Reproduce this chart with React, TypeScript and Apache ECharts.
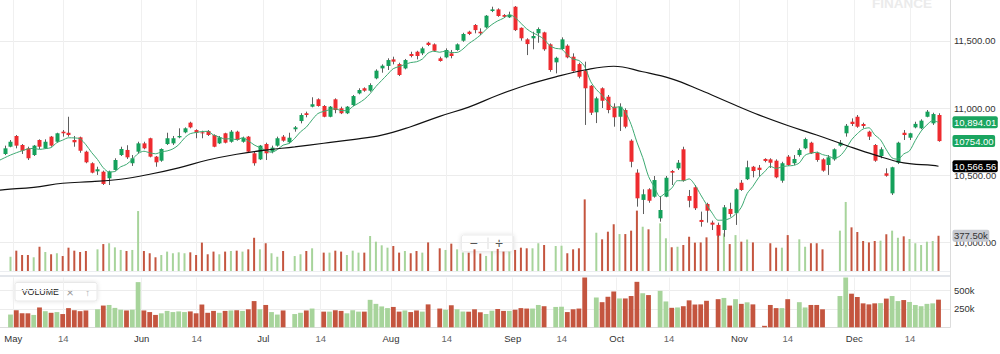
import React, { useEffect, useRef } from "react";
import * as echarts from "echarts";

// ---- DATA ----
const opens = [
  10658, 10712, 10792, 10725, 10700, 10650, 10762, 10700, 10787, 10749,
  10824, 10816, 10762, 10782, 10675, 10589, 10529, 10526, 10477, 10539,
  10650, 10688, 10589, 10675, 10737, 10775, 10638, 10608, 10732, 10737,
  10782, 10819, 10891, 10836, 10819, 10829, 10799, 10737, 10812, 10749,
  10824, 10749, 10787, 10663, 10618, 10732, 10675, 10720, 10787, 10745,
  10842, 10903, 10961, 11010, 11065, 11015, 10935, 11065, 10998, 10961,
  11022, 11109, 11147, 11129, 11221, 11295, 11313, 11362, 11327, 11295,
  11402, 11419, 11407, 11486, 11474, 11370, 11377, 11407, 11432, 11501,
  11568, 11618, 11568, 11600, 11722, 11734, 11692, 11675, 11754, 11597,
  11511, 11519, 11556, 11563, 11474, 11340, 11439, 11464, 11382, 11327,
  11278, 11166, 10968, 11147, 11084, 11010, 10935, 10985, 10757, 10519,
  10316, 10395, 10340, 10179, 10340, 10531, 10551, 10693, 10345, 10410,
  10167, 10286, 10147, 10130, 10092, 10249, 10217, 10444, 10470, 10563,
  10556, 10621, 10618, 10608, 10459, 10638, 10589, 10650, 10700, 10742,
  10667, 10618, 10576, 10618, 10720, 10812, 10898, 10935, 10881, 10824,
  10725, 10643, 10514, 10365, 10593, 10816, 10779, 10856, 10849, 10935,
  10886, 10948,
];
const closes = [
  10700, 10749, 10720, 10682, 10626, 10720, 10712, 10749, 10720, 10812,
  10812, 10799, 10745, 10682, 10596, 10519, 10544, 10435, 10526, 10613,
  10695, 10633, 10626, 10737, 10700, 10638, 10596, 10695, 10775, 10775,
  10792, 10849, 10856, 10816, 10812, 10799, 10712, 10782, 10742, 10824,
  10762, 10779, 10675, 10589, 10720, 10663, 10705, 10775, 10757, 10779,
  10856, 10948, 10948, 11028, 11015, 10935, 11010, 10985, 10961, 11010,
  11089, 11134, 11129, 11171, 11278, 11315, 11357, 11345, 11246, 11357,
  11387, 11387, 11444, 11469, 11426, 11350, 11432, 11387, 11474, 11551,
  11551, 11580, 11556, 11687, 11734, 11685, 11679, 11692, 11580, 11519,
  11476, 11536, 11588, 11437, 11283, 11374, 11511, 11377, 11275, 11233,
  11147, 10965, 11072, 11054, 10985, 10931, 11010, 10861, 10600, 10328,
  10358, 10310, 10464, 10241, 10481, 10519, 10593, 10459, 10310, 10254,
  10152, 10236, 10132, 10050, 10261, 10211, 10395, 10390, 10559, 10531,
  10539, 10606, 10593, 10484, 10589, 10576, 10621, 10688, 10769, 10663,
  10613, 10534, 10633, 10693, 10742, 10868, 10881, 10861, 10866, 10787,
  10608, 10693, 10496, 10559, 10742, 10799, 10812, 10882.05, 10906, 10973,
  10955, 10754,
];
const lows = [
  10650, 10708, 10700, 10658, 10613, 10643, 10695, 10695, 10712, 10742,
  10787, 10787, 10712, 10667, 10589, 10514, 10502, 10427, 10427, 10534,
  10643, 10621, 10569, 10663, 10693, 10633, 10563, 10600, 10725, 10725,
  10775, 10812, 10849, 10775, 10775, 10792, 10708, 10732, 10737, 10742,
  10757, 10742, 10667, 10571, 10613, 10613, 10663, 10712, 10749, 10737,
  10824, 10886, 10931, 11005, 11010, 10931, 10931, 10961, 10955, 10955,
  11015, 11102, 11121, 11121, 11214, 11263, 11283, 11325, 11238, 11288,
  11377, 11362, 11394, 11461, 11419, 11345, 11370, 11370, 11426, 11493,
  11543, 11556, 11543, 11593, 11714, 11679, 11670, 11670, 11573, 11501,
  11394, 11437, 11486, 11426, 11270, 11258, 11432, 11370, 11270, 11221,
  10874, 10948, 10888, 11000, 10961, 10861, 10829, 10849, 10559, 10266,
  10211, 10295, 10333, 10154, 10336, 10427, 10539, 10452, 10261, 10241,
  10117, 10147, 10092, 10042, 10042, 10191, 10130, 10383, 10464, 10484,
  10489, 10596, 10554, 10477, 10444, 10569, 10576, 10638, 10693, 10658,
  10600, 10526, 10502, 10608, 10712, 10787, 10866, 10853, 10849, 10762,
  10600, 10626, 10489, 10353, 10583, 10762, 10762, 10849, 10842, 10931,
  10874, 10749,
];
const highs = [
  10720, 10762, 10799, 10732, 10712, 10725, 10767, 10767, 10792, 10816,
  10836, 10935, 10792, 10787, 10682, 10596, 10563, 10534, 10534, 10626,
  10712, 10723, 10650, 10749, 10749, 10779, 10643, 10700, 10816, 10792,
  10849, 10856, 10898, 10842, 10831, 10836, 10804, 10792, 10816, 10836,
  10831, 10787, 10792, 10675, 10725, 10742, 10720, 10787, 10799, 10816,
  10866, 10961, 10973, 11080, 11072, 11022, 11015, 11072, 11010, 11015,
  11097, 11147, 11154, 11184, 11288, 11325, 11370, 11382, 11337, 11365,
  11419, 11426, 11456, 11493, 11481, 11382, 11444, 11432, 11481, 11560,
  11575, 11625, 11593, 11692, 11754, 11742, 11699, 11717, 11759, 11600,
  11519, 11568, 11600, 11568, 11481, 11382, 11526, 11474, 11407, 11337,
  11345, 11171, 11084, 11154, 11097, 11035, 11035, 10998, 10767, 10544,
  10395, 10403, 10494, 10345, 10494, 10539, 10613, 10712, 10390, 10427,
  10229, 10295, 10162, 10147, 10278, 10295, 10403, 10464, 10608, 10569,
  10576, 10626, 10626, 10618, 10600, 10650, 10650, 10700, 10779, 10749,
  10675, 10626, 10650, 10700, 10762, 10881, 10923, 10948, 10891, 10831,
  10732, 10708, 10551, 10563, 10749, 10836, 10816, 10898, 10916, 10985,
  10965, 10961,
];
// volume in thousands (0 = no bar)
const volumesK = [
  0, 174, 233, 191, 191, 169, 271, 220, 198, 208,
  181, 262, 233, 220, 230, 0, 246, 297, 305, 265,
  240, 230, 240, 617, 230, 208, 169, 191, 224, 208,
  217, 208, 217, 191, 311, 198, 224, 198, 224, 230,
  233, 224, 246, 358, 246, 305, 208, 174, 230, 0,
  181, 198, 230, 256, 0, 214, 214, 233, 224, 191,
  233, 214, 214, 375, 320, 285, 262, 278, 214, 230,
  208, 230, 214, 313, 0, 256, 240, 301, 246, 215,
  213, 246, 205, 182, 227, 250, 224, 224, 240, 262,
  256, 256, 305, 288, 0, 278, 281, 208, 246, 256,
  730, 0, 407, 343, 417, 489, 394, 394, 427, 621,
  465, 440, 0, 498, 353, 266, 271, 288, 368, 311,
  313, 362, 0, 384, 401, 297, 384, 320, 341, 313,
  0, 20, 305, 262, 262, 384, 0, 343, 271, 305,
  305, 246, 0, 0, 427, 705, 459, 414, 327, 313,
  327, 330, 392, 427, 358, 372, 346, 305, 288, 320,
  327, 377.5,
];
// first values of the short (5) moving average, for slots -1..3 (history before the window)
const maShortHead = [10609, 10630, 10650, 10667, 10682];
// long moving average
const maLongIdx = [-1, 0, 5, 10, 15, 20, 25, 30, 35, 40, 45, 50, 55, 60, 65, 70, 75, 80, 85, 90, 95, 100, 105, 110, 115, 120, 125, 130, 135, 140, 145, 150, 155, 160, 161];
const maLongVal = [
  10388, 10393, 10410, 10440, 10452, 10470, 10507, 10555, 10613, 10656,
  10687, 10711, 10738, 10765, 10798, 10861, 10938, 11007, 11095, 11171,
  11232, 11283, 11311, 11270, 11217, 11132, 11039, 10949, 10870, 10799,
  10723, 10651, 10592, 10573, 10566.56,
];
const tickPos = [1.48, 10.1, 23.62, 33.1, 44.59, 54.48, 66.6, 76.21, 87.59, 96.03, 105.52, 114.53, 126.66, 135.0, 146.48, 156.09];
const tickLabels = ["May", "14", "Jun", "14", "Jul", "14", "Aug", "14", "Sep", "14", "Oct", "14", "Nov", "14", "Dec", "14"];
const priceTicks = [10000, 10500, 11000, 11500];
const volTicks = [250000, 500000];

// ---- STYLE ----
const FONT = "Liberation Sans, Arial, Helvetica, sans-serif";
const UP = "#14a15b";
const DOWN = "#ee2b2f";
const WICK = "#5e5e5e";
const VUP = "#a7d49b";
const VDOWN = "#c4553f";
const TAG_GREEN = "#1aa560";
const X_MIN = -0.81;
const X_MAX = 162.98;

const fmtComma = (v: number) =>
  v.toLocaleString("en-US", { minimumFractionDigits: 2, maximumFractionDigits: 2 });

function tag(bg: string, color: string, fmt: (v: number) => string) {
  return {
    show: true,
    position: "end",
    distance: 2.5,
    formatter: (p: any) => fmt(Number(p.value)),
    color,
    backgroundColor: bg,
    padding: [2, 1.5, 1, 1.5],
    borderRadius: 2,
    fontSize: 9.5,
    lineHeight: 9,
    fontFamily: FONT,
    opacity: 1,
  };
}

const hiddenLine = { color: "rgba(0,0,0,0)", width: 0, opacity: 1 };

function buildOption() {
  const n = closes.length;
  const candles = opens.map((o, j) => [j, o, closes[j], lows[j], highs[j]]);
  const maShort: number[][] = [];
  maShortHead.forEach((v, k) => maShort.push([k - 1, v]));
  for (let j = 4; j < n; j++) {
    let s = 0;
    for (let k = j - 4; k <= j; k++) s += closes[k];
    maShort.push([j, s / 5]);
  }
  const maLong = maLongIdx.map((j, k) => [j, maLongVal[k]]);
  const volData = volumesK.map((v, j) => ({
    value: [j, v * 1000],
    itemStyle: { color: closes[j] >= opens[j] ? VUP : VDOWN },
  }));
  const lastShort = maShort[maShort.length - 1][1];
  const lastClose = closes[n - 1];
  const lastLong = maLongVal[maLongVal.length - 1];
  const lastVol = volumesK[n - 1] * 1000;

  const xBase = { type: "value", min: X_MIN, max: X_MAX };
  const labelFmt = (value: number) => {
    const k = tickPos.findIndex((p) => Math.abs(p - value) < 1e-6);
    if (k < 0) return "";
    return k % 2 === 0 ? `{m|${tickLabels[k]}}` : `{d|${tickLabels[k]}}`;
  };

  return {
    animation: false,
    textStyle: { fontFamily: FONT },
    grid: [
      { left: 0, top: 0, width: 950, height: 271, outerBoundsMode: "none" },
      { left: 0, top: 150, width: 950, height: 121, outerBoundsMode: "none" },
      { left: 0, top: 277.5, width: 950, height: 49.8, outerBoundsMode: "none" },
    ],
    xAxis: [
      {
        ...xBase,
        gridIndex: 0,
        axisLine: { show: false },
        axisTick: { show: false, customValues: tickPos },
        axisLabel: { show: false, customValues: tickPos },
        splitLine: { show: true, lineStyle: { color: "#f0f0f0", width: 1 } },
      },
      { ...xBase, gridIndex: 1, show: false },
      {
        ...xBase,
        gridIndex: 2,
        axisLine: { show: true, onZero: false, lineStyle: { color: "#dcdcdc" } },
        axisTick: { show: false, customValues: tickPos },
        axisLabel: {
          customValues: tickPos,
          formatter: labelFmt,
          margin: 6,
          rich: {
            m: { color: "#333", fontSize: 9.5, fontFamily: FONT },
            d: { color: "#666", fontSize: 9.5, fontFamily: FONT },
          },
        },
        splitLine: { show: true, lineStyle: { color: "#f0f0f0", width: 1 } },
      },
    ],
    yAxis: [
      {
        type: "value",
        gridIndex: 0,
        position: "right",
        min: 9787,
        max: 11804,
        axisLine: { show: false },
        axisTick: { show: false, customValues: priceTicks },
        axisLabel: {
          customValues: priceTicks,
          formatter: (v: number) => fmtComma(v),
          color: "#333",
          fontSize: 9.5,
          margin: 4,
          fontFamily: FONT,
        },
        splitLine: { show: true, lineStyle: { color: "#ececec" } },
      },
      { type: "value", gridIndex: 1, min: 36000, max: 1208500, show: false },
      {
        type: "value",
        gridIndex: 2,
        position: "right",
        min: 0,
        max: 680000,
        axisLine: { show: false },
        axisTick: { show: false, customValues: volTicks },
        axisLabel: {
          customValues: volTicks,
          formatter: (v: number) => `${Math.round(v / 1000)}k`,
          color: "#333",
          fontSize: 9.5,
          margin: 4,
          fontFamily: FONT,
        },
        splitLine: { show: true, lineStyle: { color: "#ececec" } },
      },
    ],
    series: [
      {
        type: "bar",
        name: "volOverlay",
        xAxisIndex: 1,
        yAxisIndex: 1,
        barWidth: 2,
        data: volData,
        z: 1,
        markLine: {
          symbol: ["none", "none"],
          silent: true,
          z: 30,
          lineStyle: hiddenLine,
          data: [{ yAxis: lastVol, label: tag("#c6c9d0", "#333", (v) => `${(v / 1000).toFixed(2)}k`) }],
        },
      },
      {
        type: "custom",
        name: "candles",
        xAxisIndex: 0,
        yAxisIndex: 0,
        clip: true,
        z: 3,
        encode: { x: 0, y: [1, 2, 3, 4] },
        data: candles,
        renderItem: (_params: any, api: any) => {
          const j = api.value(0);
          const o = api.value(1);
          const c = api.value(2);
          const l = api.value(3);
          const h = api.value(4);
          const po = api.coord([j, o]);
          const pc = api.coord([j, c]);
          const pl = api.coord([j, l]);
          const ph = api.coord([j, h]);
          const up = c >= o;
          const x = Math.round(po[0]) + 0.5;
          const top = Math.min(po[1], pc[1]);
          const bh = Math.max(1, Math.abs(po[1] - pc[1]));
          return {
            type: "group",
            children: [
              { type: "line", shape: { x1: x, y1: ph[1], x2: x, y2: pl[1] }, style: { stroke: WICK, lineWidth: 1 } },
              { type: "rect", shape: { x: x - 2, y: top, width: 4, height: bh }, style: { fill: up ? UP : DOWN } },
            ],
          };
        },
      },
      {
        type: "line",
        name: "MA5",
        xAxisIndex: 0,
        yAxisIndex: 0,
        data: maShort,
        showSymbol: false,
        smooth: 0.3,
        z: 4,
        lineStyle: { color: "#3daa72", width: 1 },
        markLine: {
          symbol: ["none", "none"],
          silent: true,
          z: 30,
          lineStyle: hiddenLine,
          data: [{ yAxis: lastShort, label: tag(TAG_GREEN, "#fff", fmtComma) }],
        },
      },
      {
        type: "line",
        name: "MA50",
        xAxisIndex: 0,
        yAxisIndex: 0,
        data: maLong,
        showSymbol: false,
        smooth: 0.4,
        z: 4,
        lineStyle: { color: "#111", width: 1.2 },
        markLine: {
          symbol: ["none", "none"],
          silent: true,
          z: 30,
          lineStyle: hiddenLine,
          data: [
            { yAxis: lastClose, label: tag(TAG_GREEN, "#fff", (v) => v.toFixed(2)) },
            { yAxis: lastLong, label: tag("#000", "#fff", fmtComma) },
          ],
        },
      },
      {
        type: "bar",
        name: "volume",
        xAxisIndex: 2,
        yAxisIndex: 2,
        barWidth: 4.8,
        data: volData,
        z: 2,
      },
    ],
    graphic: [
      {
        type: "text",
        x: 872,
        y: 3.6,
        silent: true,
        z: -10,
        style: { text: "FINANCE", fill: "#ebebeb", fontSize: 13.5, fontWeight: "bold", fontFamily: FONT, verticalAlign: "middle" },
      },
      { type: "line", silent: true, shape: { x1: 0, y1: 271.5, x2: 950, y2: 271.5 }, style: { stroke: "#eceef1", lineWidth: 1 } },
      { type: "rect", silent: true, shape: { x: 0, y: 275, width: 950, height: 2 }, style: { fill: "#e3e6eb" } },
      { type: "line", silent: true, shape: { x1: 950.5, y1: 0, x2: 950.5, y2: 327.5 }, style: { stroke: "#dcdcdc", lineWidth: 1 } },
      {
        type: "group",
        silent: true,
        z: 20,
        children: [
          {
            type: "rect",
            shape: { x: 461.5, y: 235, width: 52, height: 16.5, r: 2 },
            style: { fill: "#fff", stroke: "#ececec", lineWidth: 1, shadowBlur: 4, shadowColor: "rgba(0,0,0,0.12)" },
          },
          { type: "text", x: 473.5, y: 243.2, style: { text: "\u2212", fill: "#555", fontSize: 14, fontFamily: FONT, align: "center", verticalAlign: "middle" } },
          { type: "line", shape: { x1: 488, y1: 237.5, x2: 488, y2: 249 }, style: { stroke: "#dddddd", lineWidth: 1 } },
          { type: "text", x: 499, y: 243.2, style: { text: "+", fill: "#555", fontSize: 14, fontFamily: FONT, align: "center", verticalAlign: "middle" } },
        ],
      },
      {
        type: "group",
        silent: true,
        z: 20,
        children: [
          {
            type: "rect",
            shape: { x: 15, y: 282.5, width: 82, height: 18.5, r: 2 },
            style: { fill: "#fff", stroke: "#e8e8e8", lineWidth: 1, shadowBlur: 4, shadowColor: "rgba(0,0,0,0.12)" },
          },
          { type: "text", x: 21.7, y: 292, style: { text: "VOLUME", fill: "#222", fontSize: 8.8, fontFamily: FONT, verticalAlign: "middle" } },
          { type: "text", x: 70, y: 292, style: { text: "\u00d7", fill: "#999", fontSize: 13, fontFamily: FONT, align: "center", verticalAlign: "middle" } },
          { type: "text", x: 87.7, y: 292, style: { text: "\u2191", fill: "#aaa", fontSize: 10.5, fontFamily: FONT, align: "center", verticalAlign: "middle" } },
        ],
      },
    ],
  };
}

export default function App() {
  const ref = useRef<HTMLDivElement>(null);
  useEffect(() => {
    document.body.style.margin = "0";
    const chart = echarts.init(ref.current as HTMLDivElement, null, { renderer: "svg" });
    chart.setOption(buildOption() as any);
    return () => chart.dispose();
  }, []);
  return <div ref={ref} style={{ width: 1000, height: 354 }} />;
}
